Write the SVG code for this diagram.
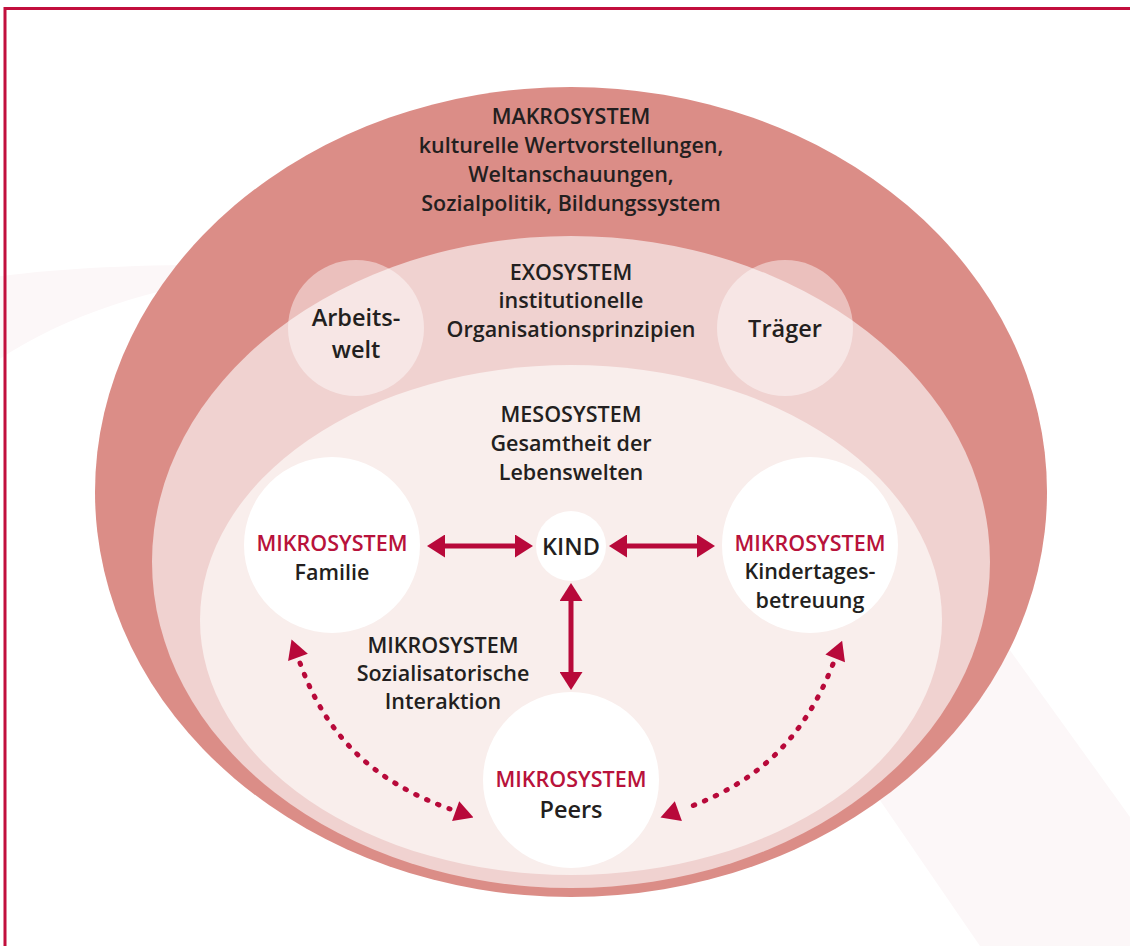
<svg xmlns="http://www.w3.org/2000/svg" width="1130" height="946" viewBox="0 0 1130 946">
<defs>
<style>
.t{font-family:"Open Sans","Noto Sans","Liberation Sans",sans-serif;font-weight:600;font-size:21.5px;fill:#231f20;text-anchor:middle}
.lg{font-size:23.5px}
.red{fill:#b8123b}
.sw{fill:#fcf7f8}
.solid{stroke:#b8093a;stroke-width:5;fill:none}
.dot{stroke:#b8093a;stroke-width:5;fill:none;stroke-linecap:round;stroke-dasharray:1.5 10.5}
</style>
<marker id="ah" viewBox="0 0 18 23" refX="10" refY="11.5" markerWidth="18" markerHeight="23" markerUnits="userSpaceOnUse" orient="auto-start-reverse">
<path d="M0,0 L18,11.5 L0,23 Z" fill="#b8093a"/>
</marker>
<marker id="ahd" viewBox="-6 0 25 21" refX="-6" refY="10.5" markerWidth="25" markerHeight="21" markerUnits="userSpaceOnUse" orient="auto-start-reverse">
<path d="M0,0 L19,10.5 L0,21 Z" fill="#b8093a"/>
</marker>
</defs>
<rect width="1130" height="946" fill="#ffffff"/>
<g id="background">
<path class="sw" d="M-5,277 C60,268 130,265 250,264 L250,276 C150,286 60,318 -5,362 Z"/>
<polygon class="sw" points="945,560 1130,817 1130,946 980,946 818,710"/>
</g>
<rect x="5" y="8.5" width="1140" height="950" fill="none" stroke="#c20f3d" stroke-width="3"/>
<g id="makrosystem">
<ellipse cx="571" cy="492" rx="476" ry="405" fill="#db8d87"/>
<text class="t" x="571" y="124">MAKROSYSTEM</text>
<text class="t" x="571" y="153">kulturelle Wertvorstellungen,</text>
<text class="t" x="571" y="182">Weltanschauungen,</text>
<text class="t" x="571" y="211">Sozialpolitik, Bildungssystem</text>
</g>
<g id="exosystem">
<ellipse cx="571" cy="562" rx="419" ry="326" fill="#f0d2d0"/>
<text class="t" x="571" y="280">EXOSYSTEM</text>
<text class="t" x="571" y="308">institutionelle</text>
<text class="t" x="571" y="337">Organisationsprinzipien</text>
</g>
<g id="arbeitswelt">
<circle cx="356" cy="328" r="68" fill="#ffffff" fill-opacity="0.45"/>
<text class="t lg" x="356" y="326">Arbeits-</text>
<text class="t lg" x="356" y="358">welt</text>
</g>
<g id="traeger">
<circle cx="785" cy="328" r="68" fill="#ffffff" fill-opacity="0.45"/>
<text class="t lg" x="785" y="337">Träger</text>
</g>
<g id="mesosystem">
<ellipse cx="571" cy="620" rx="371" ry="255" fill="#f9eeec"/>
<text class="t" x="571" y="422">MESOSYSTEM</text>
<text class="t" x="571" y="451">Gesamtheit der</text>
<text class="t" x="571" y="480">Lebenswelten</text>
</g>
<g id="interaktion">
<text class="t" x="443" y="653">MIKROSYSTEM</text>
<text class="t" x="443" y="681">Sozialisatorische</text>
<text class="t" x="443" y="709">Interaktion</text>
</g>
<g id="familie">
<circle cx="332" cy="545" r="88" fill="#ffffff"/>
<text class="t red" x="332" y="551">MIKROSYSTEM</text>
<text class="t" x="332" y="580">Familie</text>
</g>
<g id="kita">
<circle cx="810" cy="545" r="88" fill="#ffffff"/>
<text class="t red" x="810" y="551">MIKROSYSTEM</text>
<text class="t" x="810" y="579">Kindertages-</text>
<text class="t" x="810" y="608">betreuung</text>
</g>
<g id="kind">
<circle cx="571" cy="546" r="35" fill="#ffffff"/>
<text class="t lg" x="571" y="555">KIND</text>
</g>
<g id="peers">
<circle cx="571" cy="780" r="88" fill="#ffffff"/>
<text class="t red" x="571" y="787">MIKROSYSTEM</text>
<text class="t lg" x="571" y="818">Peers</text>
</g>
<g id="connectors">
<line class="solid" x1="435" y1="546" x2="525" y2="546" marker-start="url(#ah)" marker-end="url(#ah)"/>
<line class="solid" x1="617" y1="546" x2="707" y2="546" marker-start="url(#ah)" marker-end="url(#ah)"/>
<line class="solid" x1="571" y1="591" x2="571" y2="682" marker-start="url(#ah)" marker-end="url(#ah)"/>
<path class="dot" d="M300,663 C327,738 375,782 450,809" marker-start="url(#ahd)" marker-end="url(#ahd)"/>
<path class="dot" d="M833,664 C804,738 759,782 684,809" marker-start="url(#ahd)" marker-end="url(#ahd)"/>
</g>
</svg>
